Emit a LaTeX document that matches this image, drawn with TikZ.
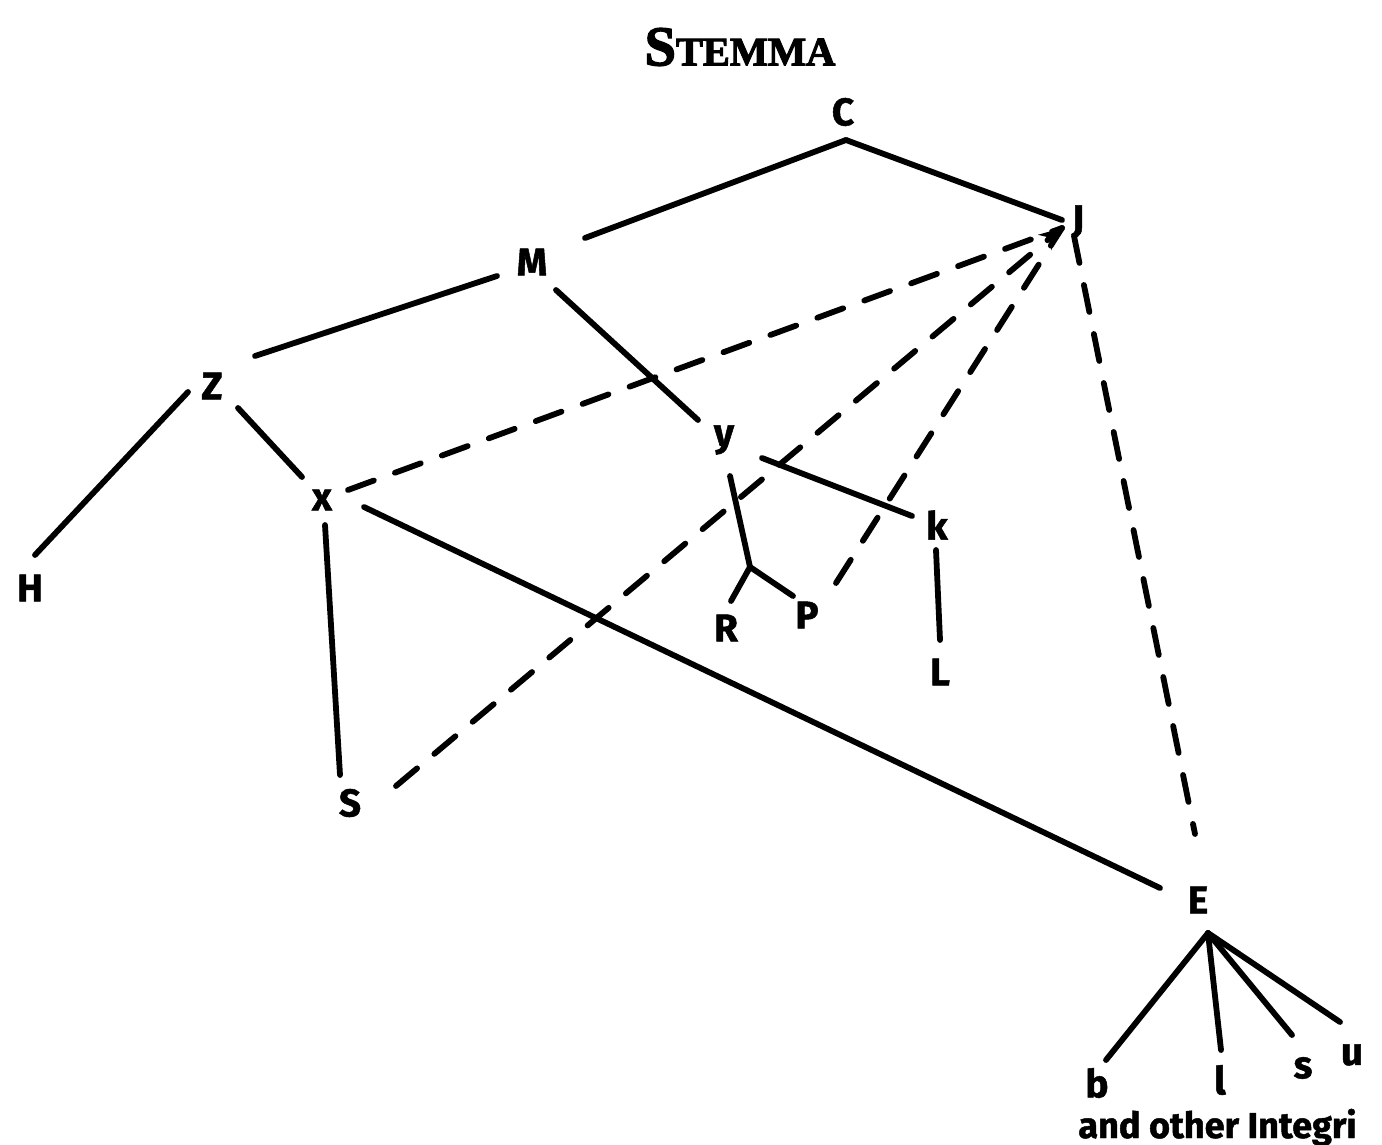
\documentclass[tikz,border=0pt]{standalone}
\usepackage{fontspec}
\setmainfont{Fira Sans}
\newfontfamily\lblfont{Fira Sans}[BoldFeatures={FakeBold=1.3}]
\newfontfamily\titlefont{Liberation Serif}[BoldFeatures={FakeBold=2.5}]
\usetikzlibrary{arrows.meta}
\begin{document}
\begin{tikzpicture}[x=0.02cm,y=-0.02cm,
  lbl/.style={font=\lblfont\fontsize{22}{24}\selectfont\bfseries, inner sep=0pt},
  solidln/.style={line width=3.3pt, line cap=round},
  dashln/.style={line width=3.3pt, line cap=round, dash pattern=on 0.55cm off 0.45cm}]
\useasboundingbox (0,0) rectangle (1382,1145);

% title
\node (title) at (740,47) {\titlefont\bfseries\fontsize{32}{34}\selectfont S\fontsize{23}{25}\selectfont TEMMA};

% manuscripts
\node[lbl] (C) at (843,112) {C};
\node[lbl] (J) at (1078,222) {J};
\node[lbl] (M) at (532,262) {M};
\node[lbl] (Z) at (212,386) {Z};
\node[lbl] (x) at (322,500) {x};
\node[lbl] (H) at (30,588) {H};
\node[lbl] (y) at (724,440) {y};
\node[lbl] (k) at (937,525) {k};
\node[lbl] (R) at (726,628) {R};
\node[lbl] (P) at (807,615) {P};
\node[lbl] (L) at (940,672) {L};
\node[lbl] (S) at (350,803) {S};
\node[lbl] (E) at (1198,900) {E};
\node[lbl] (b) at (1097,1083) {b};
\node[lbl] (l) at (1220,1080) {l};
\node[lbl] (s) at (1303,1068) {s};
\node[lbl] (u) at (1352,1055) {u};
\node[lbl, font=\lblfont\fontsize{20.5}{22}\selectfont\bfseries, anchor=base west] (note) at (1078,1138) {and other Integri};

% line ends around each label
\coordinate (Cb) at (846,140);
\coordinate (Jl) at (1062,220);
\coordinate (Jt) at (1062,228);
\coordinate (Jd) at (1074,236);
\coordinate (Mr) at (585,238);
\coordinate (Ml) at (497,276);
\coordinate (Md) at (556,290);
\coordinate (Zr) at (255,356);
\coordinate (Zl) at (188,392);
\coordinate (Zd) at (238,408);
\coordinate (xu) at (302,477);
\coordinate (xd) at (325,525);
\coordinate (xr) at (364,507);
\coordinate (xj) at (348,490);
\coordinate (Hu) at (35,555);
\coordinate (yu) at (698,420);
\coordinate (yr) at (762,458);
\coordinate (yd) at (730,476);
\coordinate (fork) at (750,567);
\coordinate (Ru) at (731,601);
\coordinate (Pu) at (793,596);
\coordinate (Pj) at (836,583);
\coordinate (kl) at (912,516);
\coordinate (kd) at (936,550);
\coordinate (Lu) at (940,640);
\coordinate (Su) at (340,775);
\coordinate (Sj) at (396,786);
\coordinate (Eu) at (1160,888);
\coordinate (Ej) at (1195,834);
\coordinate (Ed) at (1208,933);
\coordinate (bu) at (1106,1060);
\coordinate (lu) at (1221,1050);
\coordinate (su) at (1292,1035);
\coordinate (uu) at (1340,1022);

% descent
\draw[solidln] (Cb) -- (Mr);
\draw[solidln] (Cb) -- (Jl);
\draw[solidln] (Ml) -- (Zr);
\draw[solidln] (Md) -- (yu);
\draw[solidln] (Zl) -- (Hu);
\draw[solidln] (Zd) -- (xu);
\draw[solidln] (xd) -- (Su);
\draw[solidln] (xr) -- (Eu);
\draw[solidln] (yr) -- (kl);
\draw[solidln] (yd) -- (fork);
\draw[solidln] (fork) -- (Ru);
\draw[solidln] (fork) -- (Pu);
\draw[solidln] (kd) -- (Lu);
\draw[solidln] (Ed) -- (bu);
\draw[solidln] (Ed) -- (lu);
\draw[solidln] (Ed) -- (su);
\draw[solidln] (Ed) -- (uu);

% contamination
\draw[dashln] (xj) -- (Jt);
\draw[dashln, -{Stealth[length=0.45cm, width=0.4cm]}] (Sj) -- (Jt);
\draw[dashln] (Pj) -- (Jt);
\draw[dashln] (Jd) -- (Ej);
\end{tikzpicture}
\end{document}
